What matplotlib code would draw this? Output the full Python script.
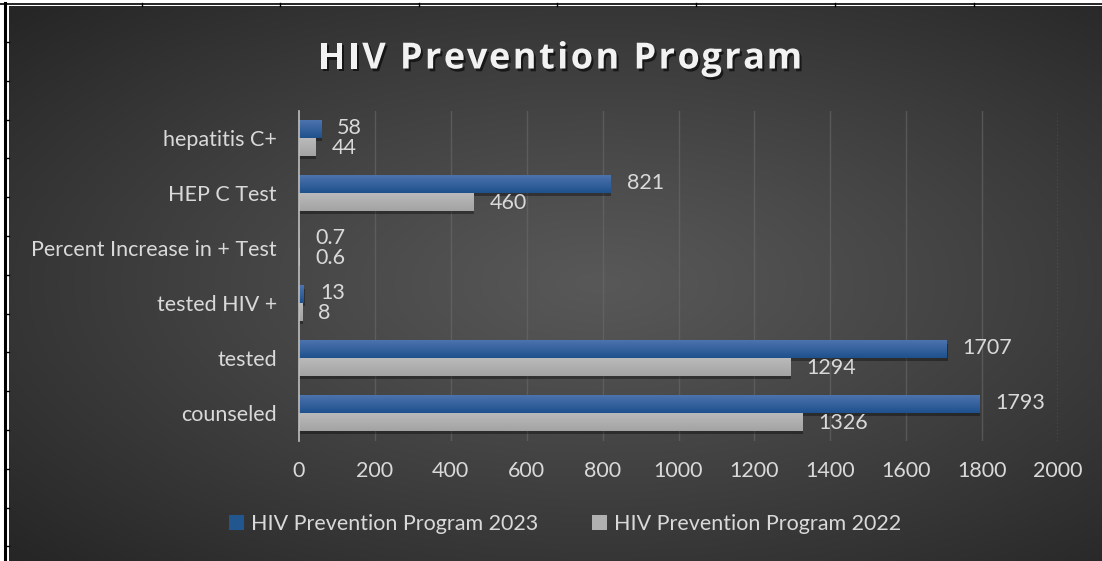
import numpy as np
import matplotlib.pyplot as plt
import matplotlib.patheffects as pe
from matplotlib.patches import Patch
from matplotlib.lines import Line2D

categories = ['counseled', 'tested', 'tested HIV +', 'Percent Increase in + Test',
              'HEP C Test', 'hepatitis C+']
vals_2023 = [1793, 1707, 13, 0.7, 821, 58]
vals_2022 = [1326, 1294, 8, 0.6, 460, 44]
labels_2023 = ['1793', '1707', '13', '0.7', '821', '58']
labels_2022 = ['1326', '1294', '8', '0.6', '460', '44']
series_names = ['HIV Prevention Program 2023', 'HIV Prevention Program 2022']
xticks = [0, 200, 400, 600, 800, 1000, 1200, 1400, 1600, 1800, 2000]
title = 'HIV Prevention Program'

W, H = 1102, 561
plt.rcParams['font.family'] = ['Lato', 'DejaVu Sans']
txt = '#d9d9d9'
fs = 15.5
blue = '#22568f'
gray = '#b0b0b0'

fig = plt.figure(figsize=(W / 100, H / 100), dpi=100, facecolor='white')

# dark radial-gradient chart area (below the spreadsheet frame)
x0, y0 = 9, 6
bg = fig.add_axes([x0 / W, 0, 1 - x0 / W, (H - y0) / H], zorder=-2)
gx, gy = np.meshgrid(np.linspace(-1, 1, 600), np.linspace(-1, 1, 300))
r = np.sqrt(((gx - 0.08) / 1.05) ** 2 + (gy / 1.0) ** 2) / np.sqrt(2)
r = np.clip(r, 0, 1)
c0, c1 = 0x58 / 255, 0x26 / 255
img = c0 + (c1 - c0) * r ** 1.1
bg.imshow(np.dstack([img, img, img]), aspect='auto', extent=[0, 1, 0, 1])
bg.axis('off')

# spreadsheet grid lines around the chart
fig.add_artist(Line2D([0, 1], [1 - 3.5 / H] * 2, color='black', lw=1.2))
fig.add_artist(Line2D([4.5 / W] * 2, [0, 1 - 3 / H], color='black', lw=2.2))
for cx in [142, 280, 419, 557, 696, 835, 974]:
    fig.add_artist(Line2D([cx / W] * 2, [1 - 6 / H, 1 - 3 / H], color='black', lw=1))
for ry in np.arange(42, 561, 38.8):
    fig.add_artist(Line2D([4.5 / W, 9 / W], [1 - ry / H] * 2, color='black', lw=1))

ax = fig.add_axes([299 / W, 120.5 / H, 759 / W, 330 / H])
ax.set_facecolor('none')
y = np.arange(len(categories))
h = 0.32
shadow = [pe.SimplePatchShadow(offset=(0.5, -2.5), shadow_rgbFace='black', alpha=0.35)]
b1 = ax.barh(y + h / 2, vals_2023, height=h, color=blue, zorder=3)
b2 = ax.barh(y - h / 2, vals_2022, height=h, color=gray, zorder=3)

# vertical shading on each bar
def shade(top, bottom):
    t = np.linspace(0, 1, 32)[:, None, None]
    top, bottom = np.array(top), np.array(bottom)
    return (top + (bottom - top) * t) * np.ones((1, 2, 1))

grad_blue = shade([0.30, 0.45, 0.68], [0.12, 0.32, 0.55])
grad_gray = shade([0.73, 0.73, 0.73], [0.64, 0.64, 0.64])
for bars, grad in ((b1, grad_blue), (b2, grad_gray)):
    for b in bars:
        b.set_path_effects(shadow)
        b.set_facecolor('none')
        b.set_edgecolor('none')
        yb, yt = b.get_y(), b.get_y() + b.get_height()
        ax.imshow(grad, extent=[0, b.get_width(), yb, yt], aspect='auto', zorder=3.5,
                  interpolation='bilinear')

for bars, labs, dy in ((b1, labels_2023, 1.2), (b2, labels_2022, -1.2)):
    for b, lab in zip(bars, labs):
        ax.annotate(lab, (b.get_width(), b.get_y() + b.get_height() / 2),
                    xytext=(11.5, dy), textcoords='offset points',
                    ha='left', va='center', color=txt, fontsize=fs)

ax.set_xlim(0, 2000)
ax.set_ylim(-0.5, len(categories) - 0.5)
ax.set_xticks(xticks)
ax.set_yticks(y)
ax.set_yticklabels(categories)
ax.tick_params(axis='x', length=0, pad=15, labelsize=fs, labelcolor=txt)
ax.tick_params(axis='y', length=0, pad=16, labelsize=fs, labelcolor=txt)
for xv in xticks[1:-1]:
    ax.axvline(xv, color='#6a6a6a', lw=1, alpha=0.6, zorder=0)
ax.axvline(xticks[-1], color='#8a8a8a', lw=1, ls=(0, (1, 1.5)), zorder=0)
for s in ['top', 'right', 'bottom']:
    ax.spines[s].set_visible(False)
ax.spines['left'].set_color('#bfbfbf')
ax.spines['left'].set_linestyle((0, (1.5, 1)))
ax.spines['left'].set_linewidth(1.2)
ax.spines['left'].set_zorder(4)

# title with letter spacing, drawn one character at a time
tkw = dict(fontsize=26, fontweight='bold', color='#f2f2f2', family='Open Sans',
           path_effects=[pe.withSimplePatchShadow(offset=(1.5, -2), shadow_rgbFace='black', alpha=0.6)])
renderer = fig.canvas.get_renderer()
def text_w(s):
    t = fig.text(0, 0, s, **tkw)
    w = t.get_window_extent(renderer).width if s.strip() else 0
    t.remove()
    return w
spacing = 2.4
full = text_w(title) + spacing * (len(title) - 1)
xs = 560 - full / 2
for i, ch in enumerate(title):
    xp = xs + text_w(title[:i]) + spacing * i if i else xs
    if title[:i].endswith(' '):
        xp = xs + text_w(title[:i] + 'I') - text_w('I') + spacing * i
    fig.text(xp / W, 1 - 55 / H, ch, ha='left', va='center_baseline', **tkw)

handles = [Patch(facecolor=blue), Patch(facecolor=gray)]
fig.legend(handles, series_names, loc='center', bbox_to_anchor=(565 / W, 1 - 524 / H),
           ncol=2, frameon=False, fontsize=fs, labelcolor=txt,
           handlelength=0.7, handleheight=0.7, handletextpad=0.3, columnspacing=2.5)

fig.savefig('out.png', dpi=100, facecolor='white')
